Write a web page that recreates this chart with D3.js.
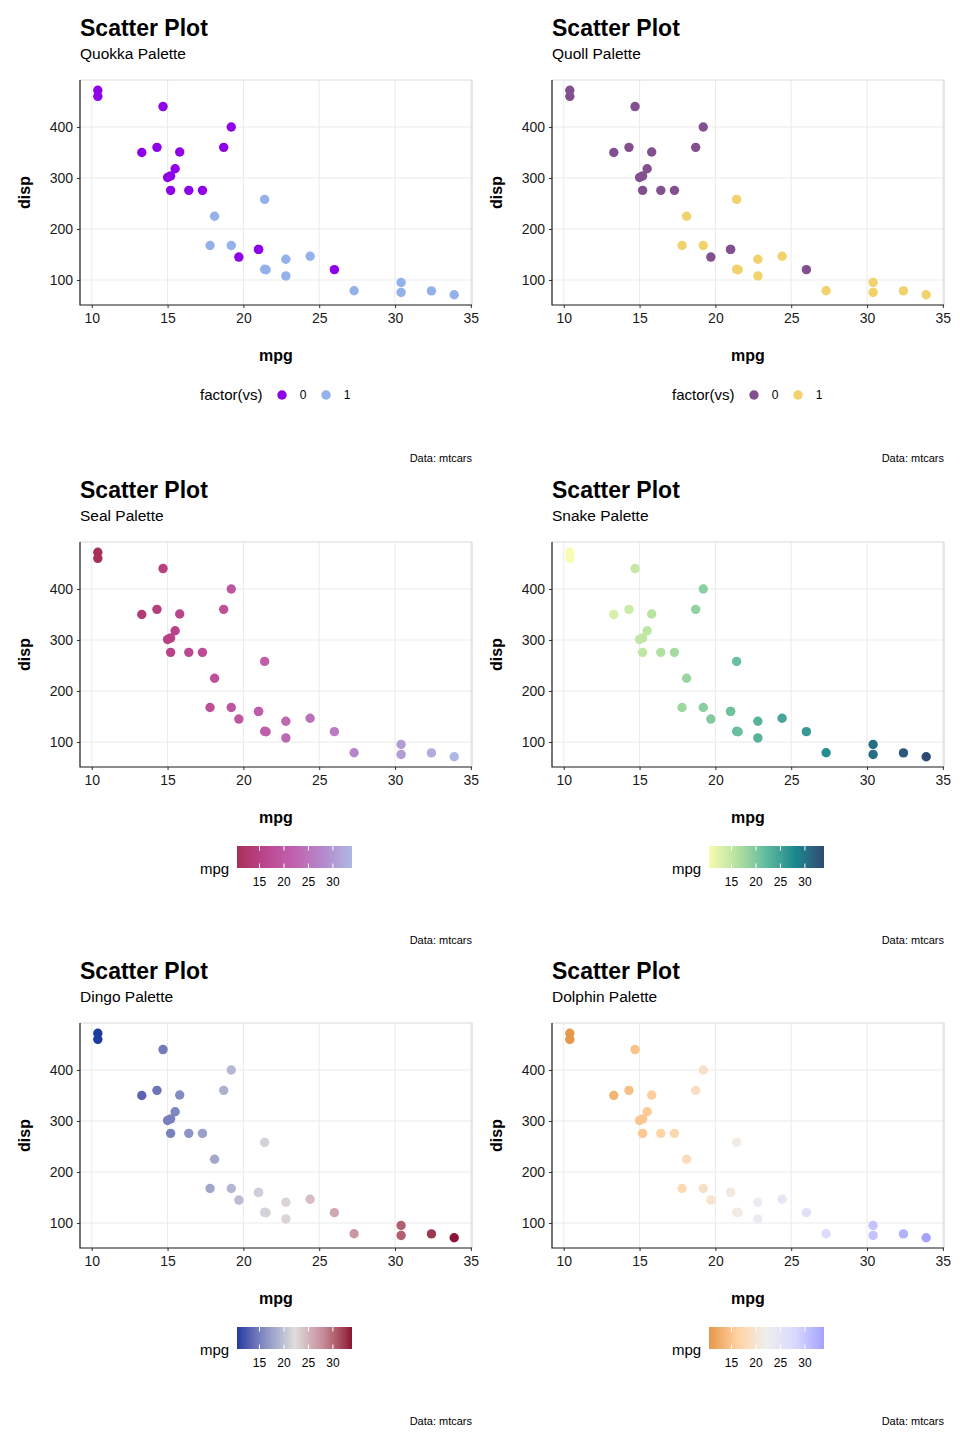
<!DOCTYPE html>
<html>
<head>
<meta charset="utf-8">
<script src="https://cdn.jsdelivr.net/npm/d3@7"></script>
<style>
  body { margin: 0; background: #fff; }
  text { font-family: "Liberation Sans", Arial, sans-serif; }
</style>
</head>
<body>
<div id="chart"></div>
<script>
// mtcars: mpg, disp, vs
const mpg  = [21.0, 21.0, 22.8, 21.4, 18.7, 18.1, 14.3, 24.4, 22.8, 19.2, 17.8, 16.4, 17.3, 15.2, 10.4, 10.4,
              14.7, 32.4, 30.4, 33.9, 21.5, 15.5, 15.2, 13.3, 19.2, 27.3, 26.0, 30.4, 15.8, 19.7, 15.0, 21.4];
const disp = [160, 160, 108, 258, 360, 225, 360, 146.7, 140.8, 167.6, 167.6, 275.8, 275.8, 275.8, 472, 460,
              440, 78.7, 75.7, 71.1, 120.1, 318, 304, 350, 400, 79, 120.3, 95.1, 351, 145, 301, 121];
const vs   = [0, 0, 1, 1, 0, 1, 0, 1, 1, 1, 1, 0, 0, 0, 0, 0, 0, 1, 1, 1, 1, 0, 0, 0, 0, 1, 0, 1, 0, 0, 0, 1];

const titles    = ["Scatter Plot", "Scatter Plot", "Scatter Plot", "Scatter Plot", "Scatter Plot", "Scatter Plot"];
const subtitles = ["Quokka Palette", "Quoll Palette", "Seal Palette", "Snake Palette", "Dingo Palette", "Dolphin Palette"];
const xTicks = [10, 15, 20, 25, 30, 35];
const yTicks = [100, 200, 300, 400];
const barTicks = [15, 20, 25, 30];
const vsLevels = ["0", "1"];

// discrete palettes (first two panels)
const quokka = ["#8F02E8", "#94B1EC"];
const quoll  = ["#83508F", "#F1D26C"];
// continuous palettes (other panels)
const seal    = ["#A72F59", "#BC4790", "#C062AE", "#B489CC", "#ADB8E4"];
const snake   = ["#F7FCB2", "#B3E1A1", "#5DBA9D", "#17888E", "#2C4A74"];
const dingo   = ["#1E3C9F", "#8A93C4", "#DDDDDD", "#C68C9A", "#8C1436"];
const dolphin = ["#E6984A", "#FFD3A2", "#EEEEEE", "#D9D9FF", "#A3A3FF"];

const palettes = [quokka, quoll, seal, snake, dingo, dolphin];

const W = 960, H = 1440;
const svg = d3.select("#chart").append("svg").attr("width", W).attr("height", H);

const data = mpg.map((m, i) => ({mpg: m, disp: disp[i], vs: String(vs[i])}));

const colLeft = [80, 552];
const rowTop  = [80, 542, 1023];
const pw = 392, ph = 225;

function expand(ext) {
  const p = (ext[1] - ext[0]) * 0.05;
  return [ext[0] - p, ext[1] + p];
}

palettes.forEach((pal, k) => {
  const px = colLeft[k % 2], pt = rowTop[Math.floor(k / 2)];
  const pb = pt + ph, pr = px + pw, cx = px + pw / 2;
  const g = svg.append("g");

  const x = d3.scaleLinear().domain(expand(d3.extent(mpg))).range([px, pr]);
  const y = d3.scaleLinear().domain(expand(d3.extent(disp))).range([pb, pt]);

  const discrete = k < 2;
  let color;
  if (discrete) {
    color = d3.scaleOrdinal().domain(vsLevels).range(pal);
  } else {
    const ext = d3.extent(mpg);
    color = d3.scaleLinear()
      .domain(d3.range(pal.length).map(i => ext[0] + (ext[1] - ext[0]) * i / (pal.length - 1)))
      .range(pal)
      .interpolate(d3.interpolateLab);
  }

  // titles
  g.append("text").attr("x", px).attr("y", pt - 44)
    .attr("font-size", 23).attr("font-weight", "bold").text(titles[k]);
  g.append("text").attr("x", px).attr("y", pt - 21)
    .attr("font-size", 15.5).text(subtitles[k]);

  // grid
  g.selectAll(".gx").data(xTicks).enter().append("line")
    .attr("x1", d => x(d)).attr("x2", d => x(d)).attr("y1", pt).attr("y2", pb)
    .attr("stroke", "#EBEBEB").attr("stroke-width", 1);
  g.selectAll(".gy").data(yTicks).enter().append("line")
    .attr("x1", px).attr("x2", pr).attr("y1", d => y(d)).attr("y2", d => y(d))
    .attr("stroke", "#EBEBEB").attr("stroke-width", 1);

  // border (top/right light)
  g.append("path").attr("d", `M${px},${pt}H${pr}V${pb}`)
    .attr("fill", "none").attr("stroke", "#D9D9D9").attr("stroke-width", 1.2);

  // axes
  const ax = g.append("g").attr("transform", `translate(0,${pb})`)
    .call(d3.axisBottom(x).tickValues(xTicks).tickSize(3).tickPadding(5));
  const ay = g.append("g").attr("transform", `translate(${px},0)`)
    .call(d3.axisLeft(y).tickValues(yTicks).tickSize(3).tickPadding(4));
  [ax, ay].forEach(a => {
    a.select(".domain").remove();
    a.selectAll("text").attr("font-size", 14).attr("fill", "#1A1A1A")
      .attr("font-family", '"Liberation Sans", Arial, sans-serif');
    a.selectAll("line").attr("stroke", "#333");
  });
  g.append("path").attr("d", `M${px},${pt}V${pb}H${pr}`)
    .attr("fill", "none").attr("stroke", "#1A1A1A").attr("stroke-width", 1.2);

  // axis titles
  g.append("text").attr("x", cx).attr("y", pb + 56).attr("text-anchor", "middle")
    .attr("font-size", 16).attr("font-weight", "bold").text("mpg");
  g.append("text").attr("transform", `translate(${px - 50},${(pt + pb) / 2}) rotate(-90)`)
    .attr("text-anchor", "middle").attr("font-size", 16).attr("font-weight", "bold").text("disp");

  // points
  g.selectAll(".pt").data(data).enter().append("circle")
    .attr("cx", d => x(d.mpg)).attr("cy", d => y(d.disp)).attr("r", 4.7)
    .attr("fill", d => discrete ? color(d.vs) : color(d.mpg));

  // legend
  const lx = cx - 76;
  if (discrete) {
    const ly = pb + 90;
    g.append("text").attr("x", lx).attr("y", ly).attr("dy", "0.35em")
      .attr("font-size", 15).text("factor(vs)");
    const items = g.selectAll(".lg").data(vsLevels).enter().append("g")
      .attr("transform", (d, i) => `translate(${lx + 82 + i * 44},${ly})`);
    items.append("circle").attr("r", 4.7).attr("fill", d => color(d));
    items.append("text").attr("x", 21).attr("dy", "0.35em").attr("text-anchor", "middle")
      .attr("font-size", 12).text(d => d);
  } else {
    const by = pb + 79, bx = lx + 37, bw = 115, bh = 22;
    const ext = d3.extent(mpg);
    const bs = d3.scaleLinear().domain(ext).range([bx, bx + bw]);
    const gid = "grad" + k;
    const grad = svg.append("defs").append("linearGradient").attr("id", gid)
      .attr("x1", "0%").attr("x2", "100%").attr("y1", "0%").attr("y2", "0%");
    d3.range(0, 1.0001, 0.05).forEach(t => {
      grad.append("stop").attr("offset", (t * 100) + "%")
        .attr("stop-color", color(ext[0] + t * (ext[1] - ext[0])));
    });
    g.append("rect").attr("x", bx).attr("y", by).attr("width", bw).attr("height", bh)
      .attr("fill", `url(#${gid})`);
    barTicks.forEach(t => {
      g.append("line").attr("x1", bs(t)).attr("x2", bs(t)).attr("y1", by).attr("y2", by + 4.5)
        .attr("stroke", "#fff").attr("stroke-width", 1);
      g.append("line").attr("x1", bs(t)).attr("x2", bs(t)).attr("y1", by + bh - 4.5).attr("y2", by + bh)
        .attr("stroke", "#fff").attr("stroke-width", 1);
    });
    g.selectAll(".bl").data(barTicks).enter().append("text")
      .attr("x", d => bs(d)).attr("y", by + 36).attr("dy", "0.35em").attr("text-anchor", "middle")
      .attr("font-size", 12).text(d => d);
    g.append("text").attr("x", lx).attr("y", by + bh + 1).attr("dy", "0.35em")
      .attr("font-size", 15).text("mpg");
  }

  // caption
  g.append("text").attr("x", pr).attr("y", discrete ? pb + 153 : pb + 173).attr("dy", "0.35em")
    .attr("text-anchor", "end").attr("font-size", 11).text("Data: mtcars");
});
</script>
</body>
</html>
